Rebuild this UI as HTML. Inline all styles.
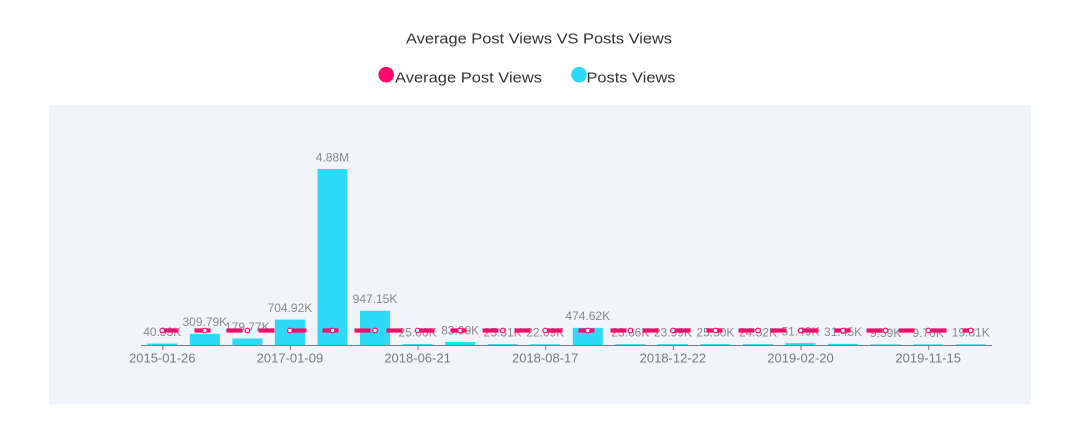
<!DOCTYPE html>
<html>
<head>
<meta charset="utf-8">
<style>
  html, body { margin: 0; padding: 0; background: #ffffff; }
  body { width: 1067px; height: 431px; overflow: hidden; }
  svg { display: block; font-family: "Liberation Sans", Arial, sans-serif; }
</style>
</head>
<body>
<svg width="1067" height="431" viewBox="0 0 1067 431" xmlns="http://www.w3.org/2000/svg">
  <rect x="0" y="0" width="1067" height="431" fill="#ffffff"/>

  <!-- Title -->
  <text x="539" y="43.3" text-anchor="middle" font-size="15" fill="#333333" textLength="266" lengthAdjust="spacingAndGlyphs">Average Post Views VS Posts Views</text>

  <!-- Legend -->
  <circle cx="386.2" cy="74.7" r="7.8" fill="#ff0a6c"/>
  <text x="395" y="82.5" font-size="15" fill="#333333" textLength="147" lengthAdjust="spacingAndGlyphs">Average Post Views</text>
  <circle cx="579" cy="74.7" r="7.8" fill="#2cdaf5"/>
  <text x="586.5" y="82.5" font-size="15" fill="#333333" textLength="89" lengthAdjust="spacingAndGlyphs">Posts Views</text>

  <!-- Plot background -->
  <rect x="49" y="105" width="982" height="299.5" fill="#f1f4fb"/>

  <!-- Bars -->
  <g fill="#2cdaf5">
    <rect x="147.28" y="343.52" width="30" height="1.48"/>
    <rect x="189.83" y="333.83" width="30" height="11.17"/>
    <rect x="232.38" y="338.52" width="30" height="6.48"/>
    <rect x="274.93" y="319.58" width="30" height="25.42"/>
    <rect x="317.48" y="169" width="30" height="176"/>
    <rect x="360.03" y="310.84" width="30" height="34.16"/>
    <rect x="402.58" y="344.1" width="30" height="0.9"/>
    <rect x="445.13" y="342.0" width="30" height="3.0"/>
    <rect x="487.68" y="344.09" width="30" height="0.91"/>
    <rect x="530.23" y="344.2" width="30" height="0.8"/>
    <rect x="572.78" y="327.88" width="30" height="17.12"/>
    <rect x="615.33" y="344.15" width="30" height="0.85"/>
    <rect x="657.88" y="344.13" width="30" height="0.87"/>
    <rect x="700.43" y="344.08" width="30" height="0.92"/>
    <rect x="742.98" y="344.12" width="30" height="0.88"/>
    <rect x="785.53" y="343.14" width="30" height="1.86"/>
    <rect x="828.08" y="343.87" width="30" height="1.13"/>
    <rect x="870.63" y="344.35" width="30" height="0.65"/>
    <rect x="913.18" y="344.35" width="30" height="0.65"/>
    <rect x="955.73" y="344.29" width="30" height="0.71"/>
  </g>

  <!-- Bar labels -->
  <g font-size="12" fill="#8a8a8a" text-anchor="middle">
    <text x="162.28" y="335.9">40.93K</text>
    <text x="204.83" y="326.1">309.79K</text>
    <text x="247.38" y="330.8">179.77K</text>
    <text x="289.93" y="311.8">704.92K</text>
    <text x="332.48" y="161.3">4.88M</text>
    <text x="375.03" y="303.0">947.15K</text>
    <text x="417.58" y="336.3">25.06K</text>
    <text x="460.13" y="334.3">83.09K</text>
    <text x="502.68" y="336.3">25.31K</text>
    <text x="545.23" y="336.4">22.09K</text>
    <text x="587.78" y="320.1">474.62K</text>
    <text x="630.33" y="336.4">23.66K</text>
    <text x="672.88" y="336.4">23.99K</text>
    <text x="715.43" y="336.3">25.50K</text>
    <text x="757.98" y="336.4">24.52K</text>
    <text x="800.53" y="335.4">51.49K</text>
    <text x="843.08" y="336.1">31.45K</text>
    <text x="885.63" y="336.8">9.59K</text>
    <text x="928.18" y="336.8">9.70K</text>
    <text x="970.73" y="336.5">19.81K</text>
  </g>

  <!-- X axis -->
  <line x1="141" y1="345.5" x2="992" y2="345.5" stroke="#7a7c85" stroke-width="1"/>
  <g stroke="#7a7c85" stroke-width="1">
    <line x1="162.8" y1="345" x2="162.8" y2="350"/>
    <line x1="290.4" y1="345" x2="290.4" y2="350"/>
    <line x1="418.1" y1="345" x2="418.1" y2="350"/>
    <line x1="545.7" y1="345" x2="545.7" y2="350"/>
    <line x1="673.4" y1="345" x2="673.4" y2="350"/>
    <line x1="801.0" y1="345" x2="801.0" y2="350"/>
    <line x1="928.7" y1="345" x2="928.7" y2="350"/>
  </g>
  <g font-size="13" fill="#7a7a7a" text-anchor="middle">
    <text x="162.28" y="362.3">2015-01-26</text>
    <text x="289.93" y="362.3">2017-01-09</text>
    <text x="417.58" y="362.3">2018-06-21</text>
    <text x="545.23" y="362.3">2018-08-17</text>
    <text x="672.88" y="362.3">2018-12-22</text>
    <text x="800.53" y="362.3">2019-02-20</text>
    <text x="928.18" y="362.3">2019-11-15</text>
  </g>

  <!-- Average line (dashed) -->
  <line x1="162.5" y1="330.5" x2="971.5" y2="330.5" stroke="#ff0a6c" stroke-width="4.2" stroke-dasharray="16 16"/>
  <g fill="#ffffff" stroke="#ff0a6c" stroke-width="1.2">
    <circle cx="162.28" cy="330.5" r="2.3"/>
    <circle cx="204.83" cy="330.5" r="2.3"/>
    <circle cx="247.38" cy="330.5" r="2.3"/>
    <circle cx="289.93" cy="330.5" r="2.3"/>
    <circle cx="332.48" cy="330.5" r="2.3"/>
    <circle cx="375.03" cy="330.5" r="2.3"/>
    <circle cx="417.58" cy="330.5" r="2.3"/>
    <circle cx="460.13" cy="330.5" r="2.3"/>
    <circle cx="502.68" cy="330.5" r="2.3"/>
    <circle cx="545.23" cy="330.5" r="2.3"/>
    <circle cx="587.78" cy="330.5" r="2.3"/>
    <circle cx="630.33" cy="330.5" r="2.3"/>
    <circle cx="672.88" cy="330.5" r="2.3"/>
    <circle cx="715.43" cy="330.5" r="2.3"/>
    <circle cx="757.98" cy="330.5" r="2.3"/>
    <circle cx="800.53" cy="330.5" r="2.3"/>
    <circle cx="843.08" cy="330.5" r="2.3"/>
    <circle cx="885.63" cy="330.5" r="2.3"/>
    <circle cx="928.18" cy="330.5" r="2.3"/>
    <circle cx="970.73" cy="330.5" r="2.3"/>
  </g>
</svg>
</body>
</html>
